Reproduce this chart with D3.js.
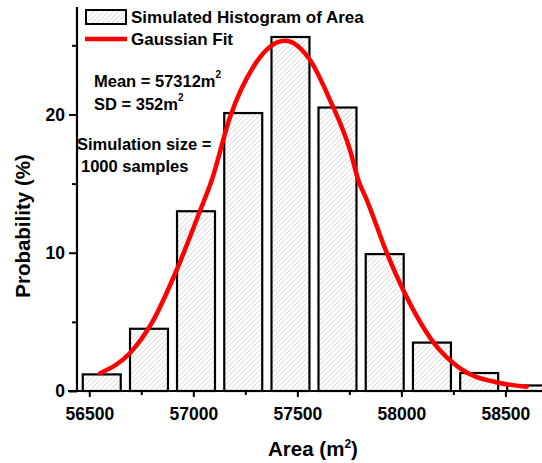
<!DOCTYPE html>
<html>
<head>
<meta charset="utf-8">
<script src="https://cdn.jsdelivr.net/npm/d3@7"></script>
<style>
  body { margin: 0; background: #fff; }
  text { font-family: Arial, "Liberation Sans", sans-serif; font-weight: bold; fill: #000; }
</style>
</head>
<body>
<svg id="chart" width="542" height="463"></svg>
<script>
// histogram bins (centre of each bin, m^2) and probability (%)
var binCenters = [56560, 56787, 57013, 57240, 57467, 57693, 57920, 58147, 58374, 58600];
var binWidth = 226.7;
var probability = [1.2, 4.5, 13.0, 20.1, 25.6, 20.5, 9.9, 3.5, 1.3, 0.4];

// gaussian fit curve
var fitArea = [56552, 56696, 56800, 56920, 57032, 57089, 57177, 57289, 57369, 57441, 57561, 57657, 57753, 57793, 57834, 57932, 58009, 58154, 58282, 58466, 58602];
var fitProb = [1.28, 2.75, 4.9, 8.75, 13.02, 15.26, 19.83, 23.45, 24.9, 25.33, 23.93, 21.04, 17.43, 15.26, 13.81, 9.91, 7.3, 3.52, 1.64, 0.6, 0.31];

var xMajor = [56500, 57000, 57500, 58000, 58500];
var xMinor = [56750, 57250, 57750, 58250];
var yMajor = [0, 10, 20];
var yMinor = [5, 15, 25];

var svg = d3.select("#chart");

var x = d3.scaleLinear().domain([56441, 58700]).range([77, 547]);
var y = d3.scaleLinear().domain([0, 27.77]).range([391, 7]);

// hatch pattern
var defs = svg.append("defs");
var pat = defs.append("pattern")
    .attr("id", "hatch")
    .attr("patternUnits", "userSpaceOnUse")
    .attr("width", 5).attr("height", 5);
pat.append("rect").attr("width", 5).attr("height", 5).style("fill", "#fff");
pat.append("path")
    .attr("d", "M-1,1 l2,-2 M0,5 l5,-5 M4,6 l2,-2")
    .style("stroke", "#cfcfcf").style("stroke-width", 0.8);

// bars
var barFrac = 0.805;
svg.append("g").selectAll("rect")
    .data(binCenters)
    .enter()
    .append("rect")
    .attr("x", function(d) { return x(d - binWidth * barFrac / 2); })
    .attr("width", function(d) { return x(d + binWidth * barFrac / 2) - x(d - binWidth * barFrac / 2); })
    .attr("y", function(d, i) { return y(probability[i]); })
    .attr("height", function(d, i) { return y(0) - y(probability[i]); })
    .style("fill", "url(#hatch)")
    .style("stroke", "#000")
    .style("stroke-width", 2.2);

// fit line
var line = d3.line()
    .x(function(d, i) { return x(fitArea[i]); })
    .y(function(d) { return y(d); })
    .curve(d3.curveMonotoneX);
svg.append("path")
    .attr("d", line(fitProb))
    .style("fill", "none")
    .style("stroke", "#ff0000")
    .style("stroke-width", 4.5)
    .style("stroke-linecap", "round");

// axes
var xAxis = svg.append("g").attr("transform", "translate(0," + y(0) + ")")
    .call(d3.axisBottom(x).tickValues(xMajor).tickSize(6).tickPadding(6).tickFormat(d3.format("d")));
xAxis.selectAll(".tick text").style("font-size", "17.5px").attr("dy", "0.95em");
var xMin = svg.append("g").attr("transform", "translate(0," + y(0) + ")")
    .call(d3.axisBottom(x).tickValues(xMinor).tickSize(4).tickFormat(""));
xMin.select(".domain").remove();

var yAxis = svg.append("g").attr("transform", "translate(" + 77 + ",0)")
    .call(d3.axisLeft(y).tickValues(yMajor).tickSize(8).tickPadding(4));
yAxis.selectAll(".tick text").style("font-size", "17.5px");
var yMin = svg.append("g").attr("transform", "translate(" + 77 + ",0)")
    .call(d3.axisLeft(y).tickValues(yMinor).tickSize(5).tickFormat(""));
yMin.select(".domain").remove();

xAxis.select(".domain").remove();
yAxis.select(".domain").remove();
svg.append("line").attr("x1", 68).attr("x2", 542).attr("y1", y(0)).attr("y2", y(0))
    .style("stroke", "#000").style("stroke-width", 2.2);
svg.append("line").attr("x1", 77).attr("x2", 77).attr("y1", y(0) + 1).attr("y2", 7)
    .style("stroke", "#000").style("stroke-width", 2.2);
svg.selectAll(".tick line").style("stroke-width", 2);

// axis titles
var xt = svg.append("text").attr("x", 313).attr("y", 456).attr("text-anchor", "middle").style("font-size", "20.5px");
xt.append("tspan").text("Area (m");
xt.append("tspan").text("2").attr("dy", -8).style("font-size", "12px");
xt.append("tspan").text(")").attr("dy", 8);

svg.append("text")
    .attr("transform", "translate(30,226) rotate(-90)")
    .attr("text-anchor", "middle")
    .style("font-size", "20.5px")
    .text("Probability (%)");

// legend
svg.append("rect").attr("x", 86).attr("y", 10).attr("width", 40).attr("height", 14)
    .style("fill", "url(#hatch)").style("stroke", "#000").style("stroke-width", 2);
svg.append("text").attr("x", 131).attr("y", 23).style("font-size", "17px").text("Simulated Histogram of Area");
svg.append("line").attr("x1", 85).attr("x2", 127).attr("y1", 39).attr("y2", 39)
    .style("stroke", "#ff0000").style("stroke-width", 4.5);
svg.append("text").attr("x", 131).attr("y", 45).style("font-size", "17px").text("Gaussian Fit");

// annotations
function supText(tx, ty, main, sup) {
    var t = svg.append("text").attr("x", tx).attr("y", ty).style("font-size", "16.5px");
    t.append("tspan").text(main);
    t.append("tspan").text(sup).attr("dy", -9).style("font-size", "10px");
}
supText(94, 87, "Mean = 57312m", "2");
supText(94, 110, "SD = 352m", "2");
svg.append("text").attr("x", 77).attr("y", 150).style("font-size", "16.5px").text("Simulation size =");
svg.append("text").attr("x", 81).attr("y", 172).style("font-size", "16.5px").text("1000 samples");
</script>
</body>
</html>
